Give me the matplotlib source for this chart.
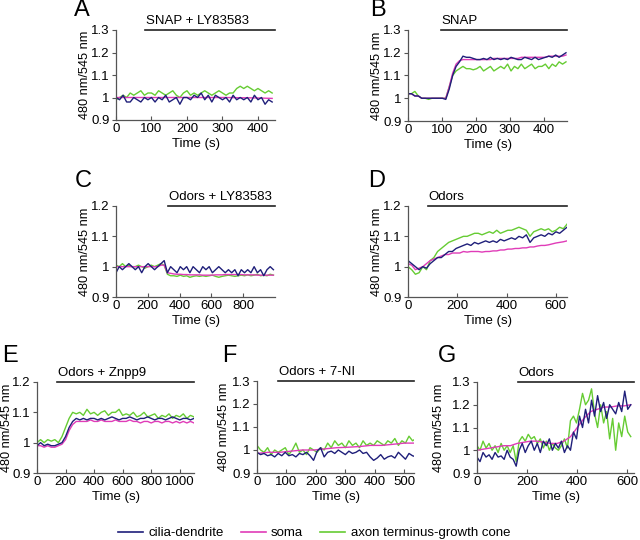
import numpy as np
import matplotlib
matplotlib.use("Agg")
import matplotlib.pyplot as plt
from matplotlib.lines import Line2D
from matplotlib.ticker import FuncFormatter

plt.rcParams['font.family'] = ['Liberation Sans', 'DejaVu Sans']

BLUE = '#1f1f7a'
PINK = '#e03cb8'
GREEN = '#66cc33'

series_names = ['cilia-dendrite', 'soma', 'axon terminus-growth cone']

# ---------------- Panel A: SNAP + LY83583 ----------------
A_end = 440
A_blue = [1.00,0.99,1.01,0.98,0.98,1.00,0.99,0.98,1.00,0.99,1.00,0.98,1.00,0.99,1.01,0.98,0.99,1.00,0.97,1.00,
          1.00,0.99,1.01,1.00,1.02,0.99,1.01,0.98,1.01,1.00,0.99,1.00,0.98,1.01,0.99,1.00,0.99,1.00,0.98,1.01,
          0.99,1.00,0.97,0.99,0.98]
A_pink = [1.00,1.00,1.00,1.00,1.00,1.00,1.00,1.00,0.999,0.998,0.996]
A_green = [0.99,1.00,1.01,1.00,1.02,1.01,1.02,1.03,1.01,1.02,1.02,1.01,1.03,1.02,1.01,1.02,1.03,1.01,1.00,1.02,
           1.03,1.01,1.02,1.01,1.02,1.03,1.02,1.01,1.02,1.03,1.02,1.01,1.02,1.02,1.04,1.05,1.04,1.05,1.04,1.03,
           1.04,1.03,1.02,1.03,1.02]

# ---------------- Panel B: SNAP ----------------
B_end = 465
B_blue = [1.02,1.02,1.01,1.01,1.00,1.00,1.00,1.00,1.00,1.00,1.00,0.995,1.04,1.10,1.14,1.16,1.185,1.18,1.18,1.175,
          1.17,1.17,1.175,1.17,1.18,1.17,1.175,1.17,1.175,1.17,1.18,1.175,1.17,1.17,1.18,1.175,1.17,1.18,1.17,1.175,
          1.18,1.185,1.18,1.19,1.18,1.19,1.20]
B_pink = [1.02,1.02,1.01,1.01,1.00,1.00,1.00,1.00,1.00,1.00,1.00,1.00,1.05,1.11,1.15,1.165,1.17,1.17,1.17,1.17,
          1.17,1.17,1.17,1.17,1.17,1.175,1.175,1.175,1.175,1.175,1.175,1.175,1.175,1.18,1.18,1.18,1.18,1.18,1.18,1.18,
          1.18,1.185,1.185,1.185,1.185,1.185,1.19]
B_green = [1.02,1.02,1.03,1.01,1.00,1.00,0.995,1.00,1.00,1.00,1.00,1.00,1.05,1.10,1.12,1.13,1.14,1.13,1.13,1.125,
           1.13,1.14,1.12,1.13,1.14,1.12,1.13,1.14,1.13,1.15,1.12,1.14,1.13,1.15,1.13,1.14,1.15,1.13,1.14,1.14,
           1.15,1.13,1.15,1.14,1.16,1.15,1.16]

# ---------------- Panel C: Odors + LY83583 ----------------
C_end = 990
C_blue = [0.98,1.00,0.99,1.00,1.01,1.00,0.99,1.00,0.98,1.00,1.01,1.00,0.99,1.00,1.01,1.02,0.98,1.00,0.99,0.98,
          1.00,0.99,1.00,0.98,1.00,0.99,0.98,1.00,0.99,1.00,0.98,0.99,1.00,0.99,0.98,0.99,0.98,0.99,0.97,0.99,
          0.98,0.99,0.98,1.00,0.98,0.99,0.97,0.99,1.00,0.99]
C_pink = [1.00,1.00,1.00,1.00,1.00,1.00,1.00,1.00,1.00,1.00,1.00,1.00,1.00,1.00,1.005,1.005,0.98,0.978,0.976,0.975,
          0.975,0.974,0.974,0.973,0.973,0.973,0.973,0.972,0.972,0.972,0.972,0.973,0.973,0.973,0.974,0.974,0.974,0.974,0.974,0.974,
          0.973,0.973,0.973,0.973,0.972,0.972,0.972,0.972,0.972,0.972]
C_green = [1.005,1.00,1.01,1.00,1.005,1.00,1.00,1.005,1.00,0.995,1.00,1.005,1.00,1.005,1.01,1.005,0.975,0.97,0.97,0.968,
           0.972,0.968,0.97,0.965,0.968,0.97,0.968,0.97,0.968,0.97,0.972,0.968,0.965,0.968,0.97,0.972,0.97,0.968,0.97,0.972,
           0.97,0.973,0.97,0.972,0.975,0.97,0.972,0.97,0.975,0.972]

# ---------------- Panel D: Odors ----------------
D_end = 645
D_blue = [1.02,1.01,1.00,0.99,1.00,0.995,1.01,1.02,1.03,1.03,1.04,1.05,1.05,1.06,1.065,1.07,1.075,1.07,1.08,1.075,
          1.08,1.085,1.08,1.085,1.08,1.09,1.085,1.09,1.095,1.09,1.10,1.095,1.105,1.08,1.095,1.10,1.105,1.10,1.11,1.105,
          1.115,1.11,1.12,1.13]
D_pink = [1.01,1.005,0.99,0.995,1.00,1.01,1.02,1.025,1.03,1.035,1.04,1.04,1.045,1.045,1.045,1.05,1.048,1.05,1.05,1.05,
          1.048,1.05,1.05,1.052,1.052,1.055,1.055,1.058,1.058,1.06,1.06,1.062,1.062,1.065,1.065,1.068,1.07,1.07,1.072,1.075,
          1.078,1.08,1.082,1.085]
D_green = [1.00,0.99,0.975,0.98,1.00,0.99,1.02,1.03,1.05,1.06,1.07,1.08,1.085,1.09,1.095,1.10,1.10,1.105,1.11,1.11,
           1.105,1.11,1.115,1.11,1.12,1.11,1.115,1.12,1.12,1.125,1.13,1.125,1.12,1.10,1.115,1.12,1.125,1.12,1.125,1.115,
           1.12,1.13,1.125,1.14]

# ---------------- Panel E: Odors + Znpp9 ----------------
E_end = 1100
E_blue = [0.99,1.00,0.99,0.995,0.99,0.99,0.995,1.00,1.02,1.05,1.07,1.08,1.075,1.08,1.075,1.08,1.08,1.075,1.08,1.075,
          1.08,1.085,1.08,1.075,1.08,1.08,1.085,1.08,1.075,1.08,1.08,1.085,1.08,1.075,1.08,1.08,1.075,1.08,1.085,1.08,
          1.075,1.08,1.08,1.075,1.08]
E_pink = [0.99,0.99,0.985,0.99,0.985,0.985,0.99,0.995,1.01,1.04,1.06,1.07,1.07,1.07,1.07,1.075,1.07,1.07,1.075,1.07,
          1.07,1.07,1.075,1.07,1.07,1.07,1.075,1.07,1.07,1.065,1.07,1.07,1.065,1.07,1.07,1.065,1.07,1.07,1.065,1.07,
          1.065,1.07,1.065,1.07,1.065]
E_green = [1.00,1.01,1.00,1.01,1.005,1.01,1.00,1.02,1.05,1.08,1.10,1.095,1.10,1.09,1.11,1.095,1.10,1.09,1.10,1.105,
           1.09,1.10,1.10,1.11,1.09,1.095,1.09,1.10,1.085,1.09,1.10,1.085,1.09,1.095,1.08,1.09,1.085,1.095,1.08,1.09,
           1.085,1.095,1.08,1.09,1.085]

# ---------------- Panel F: Odors + 7-NI ----------------
F_end = 540
F_blue = [0.99,0.98,0.985,0.975,0.98,0.97,0.985,0.975,0.99,0.975,0.98,0.97,0.985,0.98,0.99,0.975,0.955,0.995,1.01,0.97,
          0.99,0.995,0.985,1.00,0.99,0.98,0.995,0.985,0.99,1.00,0.985,0.99,0.97,0.955,0.965,0.98,0.96,0.97,0.975,0.965,
          0.99,0.975,0.96,0.985,0.975,0.97]
F_pink = [0.985,0.99,0.99,0.995,1.00,1.00,1.005,1.01,1.012,1.015,1.02,1.02,1.025,1.03,1.03]
F_green = [1.02,1.00,0.99,1.01,0.98,1.00,0.99,1.00,1.01,0.98,1.00,1.03,0.99,1.00,0.98,1.01,1.00,0.99,1.01,1.00,
           1.03,1.01,1.04,1.02,1.03,1.01,1.04,1.02,1.03,1.01,1.04,1.02,1.03,1.02,1.04,1.03,1.02,1.04,1.03,1.05,
           1.02,1.04,1.03,1.06,1.04,1.05]

# ---------------- Panel G: Odors ----------------
G_end = 615
G_blue = [0.97,0.95,0.99,0.97,0.98,0.96,0.99,0.97,0.975,0.96,1.00,0.97,0.96,0.93,1.00,1.03,0.99,1.02,1.04,1.00,
          1.03,0.99,1.04,1.02,1.05,1.00,1.03,1.01,1.04,0.99,1.02,1.00,1.08,1.05,1.15,1.10,1.18,1.12,1.22,1.15,
          1.24,1.17,1.21,1.14,1.20,1.18,1.16,1.21,1.17,1.26,1.18,1.20]
G_pink = [1.00,1.005,1.01,1.015,1.02,1.02,1.03,1.035,1.04,1.04,1.035,1.03,1.03,1.04,1.06,1.10,1.14,1.17,1.18,1.19,
          1.19,1.195,1.195,1.20]
G_green = [1.02,1.00,1.04,1.01,1.03,1.00,1.02,0.99,1.03,1.00,1.02,0.99,1.02,0.95,1.04,1.06,1.04,1.07,1.05,1.06,
           1.03,1.05,1.01,1.04,1.00,1.03,1.01,1.00,1.02,1.05,1.01,1.13,1.15,1.12,1.18,1.25,1.20,1.22,1.27,1.16,
           1.10,1.20,1.12,1.17,1.05,1.14,1.00,1.12,1.06,1.15,1.08,1.06]

# panel definitions: letter, label, bar start, xmax, xticks, ymax, data end, data
panels = [
    ('A', 'SNAP + LY83583', 82, 448, [0,100,200,300,400], 1.3, A_end, A_blue, A_pink, A_green),
    ('B', 'SNAP', 97, 468, [0,100,200,300,400], 1.3, B_end, B_blue, B_pink, B_green),
    ('C', 'Odors + LY83583', 327, 1000, [0,200,400,600,800], 1.2, C_end, C_blue, C_pink, C_green),
    ('D', 'Odors', 81, 645, [0,200,400,600], 1.2, D_end, D_blue, D_pink, D_green),
    ('E', 'Odors + Znpp9', 139, 1100, [0,200,400,600,800,1000], 1.2, E_end, E_blue, E_pink, E_green),
    ('F', 'Odors + 7-NI', 71, 533, [0,100,200,300,400,500], 1.3, F_end, F_blue, F_pink, F_green),
    ('G', 'Odors', 164, 628, [0,200,400,600], 1.3, G_end, G_blue, G_pink, G_green),
]

# axes rectangles in pixels (left, top, right, bottom) for a 640x540 figure
rects = {
    'A': (116, 30, 275, 120),
    'B': (408, 30, 567, 121),
    'C': (116, 206, 275, 297),
    'D': (408, 206, 567, 297),
    'E': (37, 382, 194, 473),
    'F': (257, 381, 414, 473),
    'G': (477, 382, 634, 473),
}
# right edge (px) of the rotated y-label
ylabel_right = {'A': 91, 'B': 382.5, 'C': 91, 'D': 382.5, 'E': 13.5, 'F': 230, 'G': 445}
letter_pos = {'A': (74, 10), 'B': (370, 10), 'C': (75, 181), 'D': (368, 181),
              'E': (2, 356), 'F': (222, 356), 'G': (438, 356)}

W, H = 640, 540
fig = plt.figure(figsize=(6.4, 5.4), dpi=100)
fs = 9.5

for (letter, label, bar0, xmax, xticks, ymax, t_end, vb, vp, vg) in panels:
    l, t, r, b = rects[letter]
    ax = fig.add_axes([l / W, 1 - b / H, (r - l) / W, (b - t) / H])
    for vals, col in ((vg, GREEN), (vp, PINK), (vb, BLUE)):
        tt = np.linspace(0, t_end, len(vals))
        ax.plot(tt, vals, color=col, lw=1.0)
    ax.set_xlim(0, xmax)
    ax.set_ylim(0.9, ymax)
    ax.set_xticks(xticks)
    yt = [0.9, 1.0, 1.1, 1.2, 1.3] if ymax > 1.25 else [0.9, 1.0, 1.1, 1.2]
    ax.set_yticks(yt)
    ax.yaxis.set_major_formatter(FuncFormatter(lambda v, p: '%g' % round(v, 2)))
    for s in ('top', 'right'):
        ax.spines[s].set_visible(False)
    for s in ('left', 'bottom'):
        ax.spines[s].set_color('#555555')
        ax.spines[s].set_linewidth(0.9)
    ax.tick_params(axis='x', direction='in', length=3, width=0.8, color='#555555', labelsize=fs, pad=2)
    ax.tick_params(axis='y', direction='out', length=3, width=0.8, color='#555555', labelsize=fs, pad=1.5)
    ax.set_xlabel('Time (s)', fontsize=fs, labelpad=2)
    ax.set_ylabel('480 nm/545 nm', fontsize=9.2)
    ax.yaxis.set_label_coords((ylabel_right[letter] - l) / (r - l), 0.5)
    # treatment bar
    ax.plot([bar0, xmax], [ymax, ymax], color='#222222', lw=1.2, clip_on=False)
    ax.text(bar0 + 0.005 * xmax, ymax + 0.012 * (ymax - 0.9) / 0.4, label, fontsize=fs,
            ha='left', va='bottom')
    lx, ly = letter_pos[letter]
    fig.text(lx / W, 1 - ly / H, letter, fontsize=17, ha='left', va='center')

handles = [Line2D([], [], color=c, lw=1.2) for c in (BLUE, PINK, GREEN)]
fig.legend(handles, series_names, loc='center', bbox_to_anchor=(314 / W, 1 - 533 / H),
           ncol=3, frameon=False, fontsize=fs, handlelength=1.9, handletextpad=0.4,
           columnspacing=1.3)

fig.savefig('out.png', dpi=100)
